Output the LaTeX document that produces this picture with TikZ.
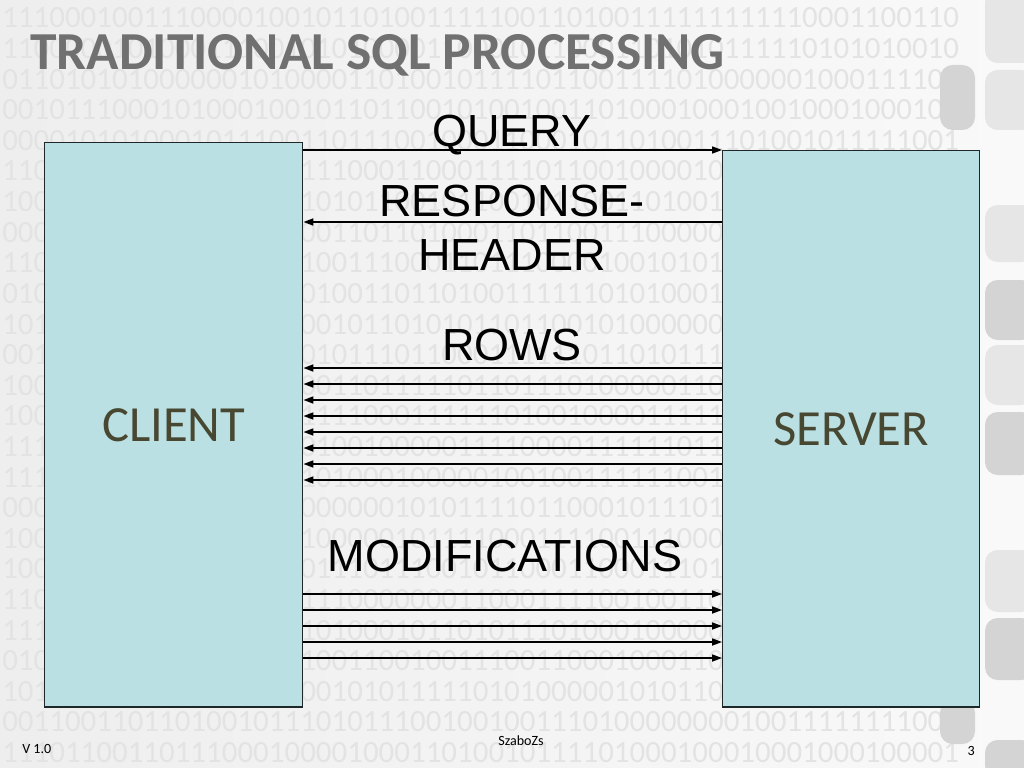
\documentclass[tikz,border=0pt]{standalone}
\usepackage{fontspec}
\setmainfont{Carlito}
\newfontfamily\arialfont{Liberation Sans}
\usetikzlibrary{arrows.meta, positioning}
\definecolor{BG}{RGB}{238,238,238}
\definecolor{BGW}{RGB}{249,249,249}
\definecolor{BIN}{RGB}{227,227,227}
\definecolor{BOX}{RGB}{186,224,227}
\definecolor{DG}{RGB}{30,40,40}
\definecolor{TG}{RGB}{112,112,112}
\definecolor{OL}{RGB}{72,72,50}
\definecolor{D1}{RGB}{230,230,230}
\definecolor{D2}{RGB}{212,212,212}

\tikzset{
  sidebox/.style={draw=DG, line width=1pt, fill=BOX, anchor=north west,
    inner sep=0pt, text=OL, font=\fontsize{36}{36}\selectfont},
  msg/.style={draw=black, line width=1pt, -{Triangle[length=7pt,width=5pt]}},
  lbl/.style={font=\arialfont\fontsize{32}{32}\selectfont, anchor=base, inner sep=0pt},
  foot/.style={font=\fontsize{10}{10}\selectfont, inner sep=0pt},
  bin/.style={font=\fontsize{22}{22}\selectfont, text=BIN, anchor=base west, inner sep=0pt},
  deco/.style={rounded corners=9pt},
}

\begin{document}
\begin{tikzpicture}[x=0.025cm, y=-0.025cm]
\useasboundingbox (0,0) rectangle (1024,768);

% slide background
\shade[left color=BG, right color=BGW] (0,0) rectangle (1024,768);
\pgfmathsetseed{11}
\foreach \r in {0,...,24}
  \node[bin] (row\r) at (2,28+30.6*\r)
    {\foreach \i in {1,...,61}{\pgfmathrandominteger{\bdig}{0}{1}\bdig}};

% side pattern
\fill[D1, deco] (985,-10) rectangle (1034,63);
\fill[D1, deco] (985,70) rectangle (1034,130);
\fill[D2, deco] (940,65) rectangle (975,130);
\fill[D1, deco] (985,205) rectangle (1034,262);
\fill[D2, deco] (985,280) rectangle (1034,340);
\fill[D1, deco] (985,345) rectangle (1034,405);
\fill[D2, deco] (985,412) rectangle (1034,475);
\fill[D1, deco] (985,550) rectangle (1034,612);
\fill[D2, deco] (985,618) rectangle (1034,680);
\fill[D2, deco] (940,700) rectangle (975,744);
\fill[D2, deco] (985,740) rectangle (1034,778);

\node[font=\bfseries\fontsize{38}{38}\selectfont, text=TG, anchor=base west, inner sep=0pt]
  (title) at (30,70) {TRADITIONAL SQL PROCESSING};

\node[sidebox, minimum width=6.45cm, minimum height=14.1cm] (client) at (44,142) {CLIENT};
\node[sidebox, minimum width=6.425cm, minimum height=13.9cm] (server) at (722,150) {SERVER};

\node[lbl] (query) at (512,147) {QUERY};
\node[lbl] (resp) at (512,216) {RESPONSE-};
\node[lbl] (header) at (512,270) {HEADER};
\node[lbl] (rows) at (512,360) {ROWS};
\node[lbl] (mods) at (505,571) {MODIFICATIONS};

\draw[msg] (client.east |- 0,150) -- (server.west |- 0,150);
\draw[msg] (server.west |- 0,222) -- (client.east |- 0,222);
\foreach \y in {368,384,...,480}
  \draw[msg] (server.west |- 0,\y) -- (client.east |- 0,\y);
\foreach \y in {594,610,...,658}
  \draw[msg] (client.east |- 0,\y) -- (server.west |- 0,\y);

\node[foot, anchor=base west] (ver) at (22,753) {V 1.0};
\node[foot, anchor=base] (auth) at (521,745) {SzaboZs};
\node[foot, anchor=base east] (page) at (975,755) {3};
\end{tikzpicture}
\end{document}
